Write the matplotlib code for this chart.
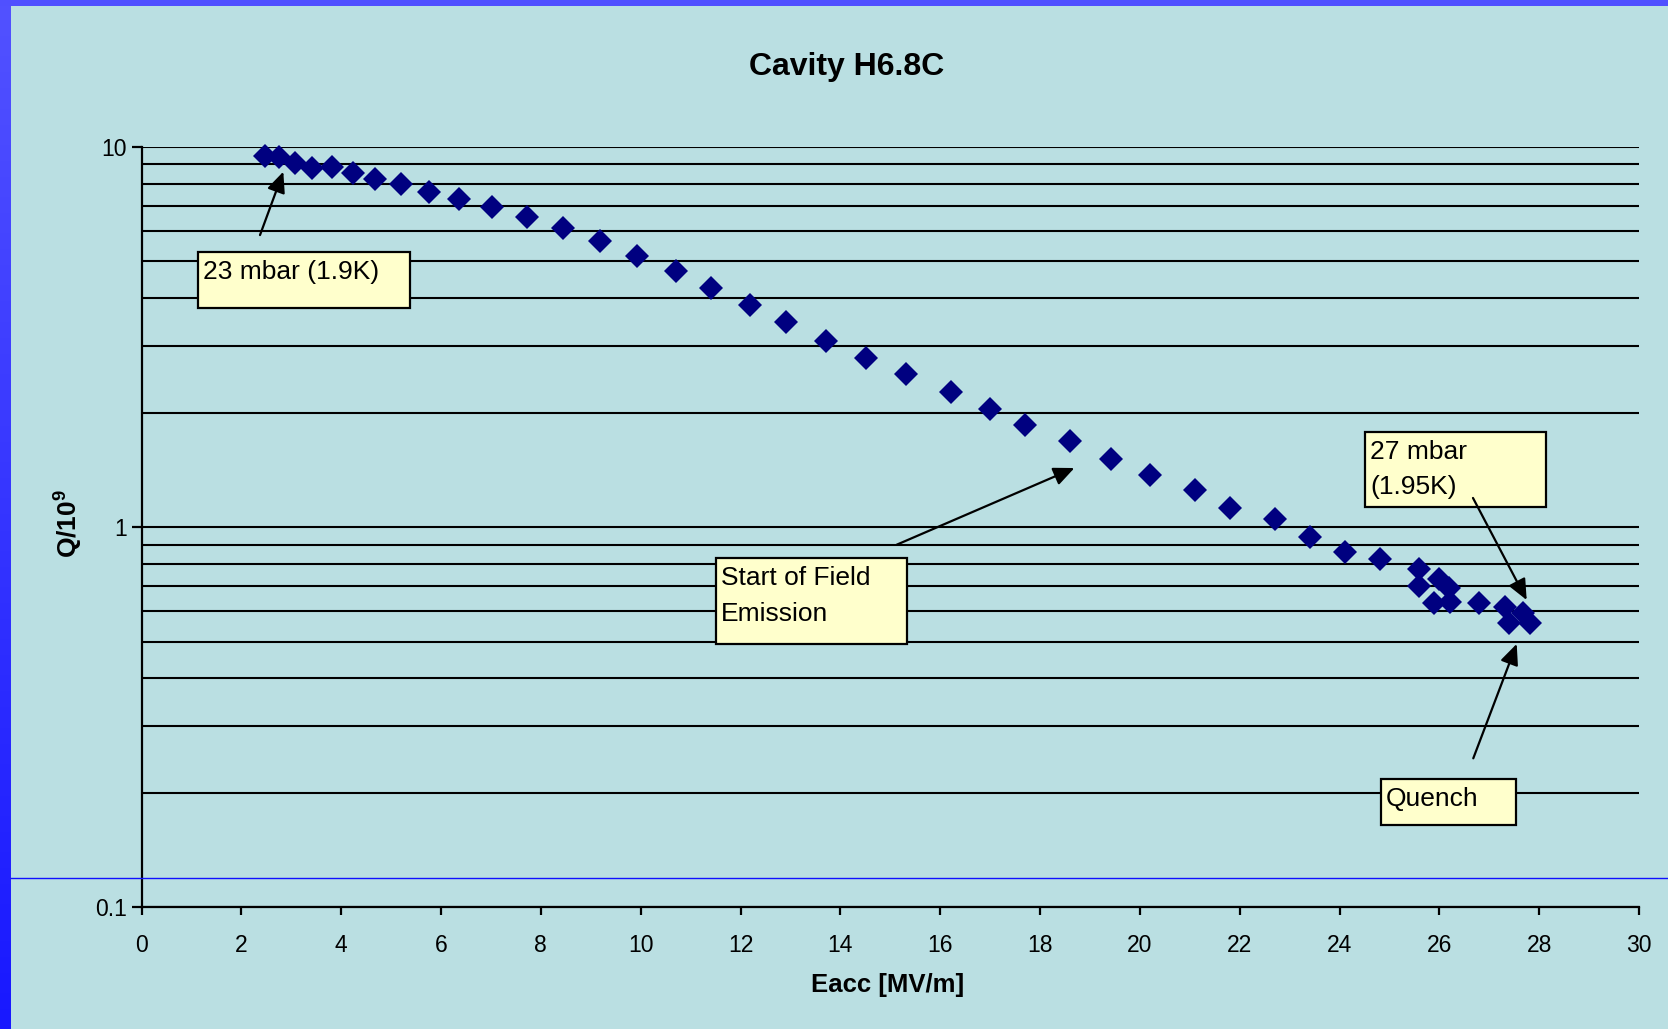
import numpy as np
import matplotlib
matplotlib.use("Agg")
import matplotlib.pyplot as plt
from matplotlib.patches import Rectangle
from matplotlib.lines import Line2D
from matplotlib.colors import LinearSegmentedColormap
from matplotlib.ticker import LogLocator, NullFormatter, FixedLocator, FixedFormatter

plt.rcParams['font.family'] = ['Liberation Sans', 'DejaVu Sans']
plt.rcParams['mathtext.fontset'] = 'custom'
plt.rcParams['mathtext.rm'] = 'Liberation Sans'
plt.rcParams['mathtext.bf'] = 'Liberation Sans:bold'

# ---- data ----
eacc = [2.47, 2.76, 3.08, 3.41, 3.81, 4.24, 4.68, 5.20, 5.76, 6.37, 7.02, 7.72,
        8.44, 9.19, 9.92, 10.71, 11.40, 12.20, 12.91, 13.71, 14.51, 15.31, 16.21,
        17.00, 17.70, 18.61, 19.42, 20.21, 21.11, 21.81, 22.71, 23.41, 24.11,
        24.81, 25.60, 25.60, 26.00, 26.20, 25.90, 26.21, 26.80, 27.32, 27.68,
        27.40, 27.82]
q0 = [9.46, 9.38, 9.08, 8.78, 8.83, 8.55, 8.21, 7.97, 7.62, 7.29, 6.96, 6.55,
      6.13, 5.66, 5.17, 4.71, 4.26, 3.83, 3.47, 3.08, 2.78, 2.52, 2.27, 2.05,
      1.86, 1.68, 1.51, 1.37, 1.25, 1.12, 1.05, 0.944, 0.862, 0.826, 0.774,
      0.700, 0.730, 0.690, 0.630, 0.636, 0.633, 0.617, 0.596, 0.561, 0.558]
x_ticks = list(range(0, 31, 2))
y_ticks = [0.1, 1, 10]
y_tick_labels = ['0.1', '1', '10']
title = 'Cavity H6.8C'
x_label = 'Eacc [MV/m]'
y_label = r'$\mathbf{Q/10^{9}}$'
note_texts = ['23 mbar (1.9K)', '27 mbar\n(1.95K)', 'Start of Field\nEmission', 'Quench']

W, H = 1668, 1029
BG = '#BADFE2'
fig = plt.figure(figsize=(W / 100, H / 100), dpi=100, facecolor=BG)

def fx(px):
    return px / W

def fy(py):
    return 1 - py / H

# border decorations
grad = np.linspace(0, 1, 256).reshape(-1, 1)
bax = fig.add_axes([0, 0, fx(11), 1])
bax.axis('off')
bcmap = LinearSegmentedColormap.from_list('b', ['#5252FF', '#1818FF'])
bax.imshow(grad, aspect='auto', cmap=bcmap, extent=[0, 1, 0, 1], origin='upper')
fig.patches.append(Rectangle((0, fy(6)), 1, 6 / H, transform=fig.transFigure,
                             facecolor='#5050FF', edgecolor='none', zorder=5))
fig.add_artist(Line2D([fx(11), 1], [fy(878), fy(878)], color='#1010FF', lw=1.0, zorder=3))

x0p, x1p, y0p, y1p = 141.5, 1639.0, 146.8, 907.4
ax = fig.add_axes([fx(x0p), fy(y1p), fx(x1p - x0p), (y1p - y0p) / H])
ax.set_facecolor('none')
ax.set_yscale('log')
ax.set_xlim(0, 30)
ax.set_ylim(0.1, 10)

for s in ['top', 'right']:
    ax.spines[s].set_visible(False)
for s in ['left', 'bottom']:
    ax.spines[s].set_color('black')
    ax.spines[s].set_linewidth(1.6)
    ax.spines[s].set_zorder(3)

ax.xaxis.set_major_locator(FixedLocator(x_ticks))
ax.set_xticklabels([str(t) for t in x_ticks])
ax.yaxis.set_major_locator(FixedLocator(y_ticks))
ax.yaxis.set_major_formatter(FixedFormatter(y_tick_labels))
ax.yaxis.set_minor_locator(LogLocator(base=10, subs=np.arange(2, 10)))
ax.yaxis.set_minor_formatter(NullFormatter())
ax.tick_params(axis='x', which='major', direction='out', length=6, width=1.6,
               labelsize=16.5, pad=13, colors='black')
ax.tick_params(axis='y', which='major', direction='out', length=7, width=1.6,
               labelsize=16.5, pad=3.5, colors='black')
ax.tick_params(axis='y', which='minor', length=0)
ax.grid(True, axis='y', which='both', color='black', lw=1.5)
ax.set_axisbelow(True)

ax.plot(eacc, q0, linestyle='none', marker='D', markersize=12.3,
        markerfacecolor='#000080', markeredgewidth=0, zorder=6, clip_on=False)

# annotation boxes (data coordinates)
boxes = [(1.132, 5.379, 3.77, 5.29),
         (24.511, 28.137, 1.131, 1.782),
         (11.509, 15.344, 0.494, 0.827),
         (24.831, 27.530, 0.1647, 0.2176)]
arrows = [((2.374, 5.86), (2.841, 8.60)),
          ((26.674, 1.193), (27.750, 0.643)),
          ((15.131, 0.899), (18.689, 1.430)),
          ((26.680, 0.2466), (27.550, 0.493))]
for (bx0, bx1, by0, by1), txt in zip(boxes, note_texts):
    ax.add_patch(Rectangle((bx0, by0), bx1 - bx0, by1 - by0, facecolor='#FFFFCC',
                           edgecolor='black', lw=1.6, zorder=4))
    ax.annotate(txt, xy=(bx0, by1), xycoords='data', xytext=(5, -8),
                textcoords='offset pixels', ha='left', va='top', fontsize=19,
                linespacing=1.6, color='black', zorder=5)
for start, tip in arrows:
    ax.annotate('', xy=tip, xytext=start, xycoords='data', textcoords='data',
                arrowprops=dict(arrowstyle='-|>,head_length=0.45,head_width=0.2',
                                color='black', lw=1.6, mutation_scale=28,
                                shrinkA=0, shrinkB=0), zorder=7)

fig.text(fx(846.5), fy(67), title, ha='center', va='center', fontsize=23,
         fontweight='bold')
fig.text(fx(888), fy(985), x_label, ha='center', va='center', fontsize=18.5,
         fontweight='bold')
fig.text(fx(69), fy(524), y_label, ha='center', va='center', fontsize=19,
         rotation=90)

fig.savefig('out.png', dpi=100, facecolor=BG)
